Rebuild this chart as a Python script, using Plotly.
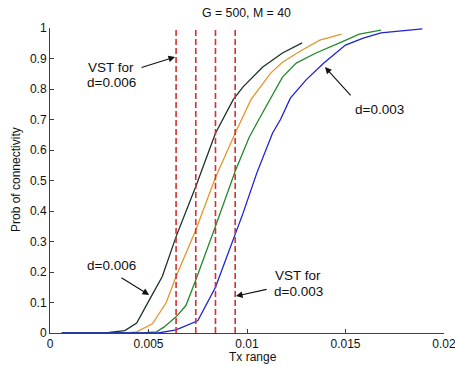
import plotly.graph_objects as go

# ---- data ----
x_black = [0.0006, 0.0030, 0.0038, 0.0044, 0.0051, 0.0057, 0.0064, 0.0074, 0.0084, 0.0093, 0.0098, 0.0108, 0.0118, 0.0128]
y_black = [0.0, 0.002, 0.008, 0.033, 0.115, 0.185, 0.316, 0.48, 0.655, 0.765, 0.807, 0.872, 0.918, 0.951]

x_orange = [0.0006, 0.0040, 0.0044, 0.0052, 0.0059, 0.0064, 0.0074, 0.0084, 0.0094, 0.0102, 0.0112, 0.0118, 0.0128, 0.0137, 0.0148]
y_orange = [0.0, 0.001, 0.004, 0.03, 0.10, 0.185, 0.338, 0.51, 0.655, 0.765, 0.852, 0.888, 0.928, 0.96, 0.98]

x_green = [0.0006, 0.0048, 0.0054, 0.0058, 0.0064, 0.0069, 0.0074, 0.0079, 0.0084, 0.0094, 0.0101, 0.0106, 0.0118, 0.0125, 0.0135, 0.0147, 0.0157, 0.0168]
y_green = [0.0, 0.001, 0.004, 0.02, 0.053, 0.09, 0.174, 0.26, 0.35, 0.53, 0.64, 0.70, 0.839, 0.885, 0.918, 0.951, 0.98, 0.993]

x_blue = [0.0006, 0.0055, 0.0064, 0.0075, 0.0084, 0.0091, 0.0098, 0.0105, 0.0113, 0.0117, 0.0122, 0.0130, 0.0139, 0.0150, 0.0159, 0.0168, 0.0178, 0.0189]
y_blue = [0.0, 0.0, 0.01, 0.04, 0.15, 0.27, 0.393, 0.525, 0.656, 0.70, 0.77, 0.83, 0.885, 0.944, 0.967, 0.984, 0.99, 0.997]

vst_lines = [0.0064, 0.0074, 0.0084, 0.0094]

x_ticks = [0, 0.005, 0.01, 0.015, 0.02]
x_tick_labels = ["0", "0.005", "0.01", "0.015", "0.02"]
y_ticks = [0, 0.1, 0.2, 0.3, 0.4, 0.5, 0.6, 0.7, 0.8, 0.9, 1]
y_tick_labels = ["0", "0.1", "0.2", "0.3", "0.4", "0.5", "0.6", "0.7", "0.8", "0.9", "1"]

title_text = "G = 500, M = 40"
x_title = "Tx range"
y_title = "Prob of connectivity"

FONT = "Liberation Sans, Arial, sans-serif"

# plot-area pixel geometry (for placing title / axis titles)
L, R, T, B = 50, 444, 28, 333
PW, PH = R - L, B - T

def px_to_paper(px, py):
    return (px - L) / PW, (B - py) / PH

fig = go.Figure()

series = [
    (x_black, y_black, "#1d3326"),
    (x_orange, y_orange, "#e3962c"),
    (x_green, y_green, "#25892a"),
    (x_blue, y_blue, "#1f22cf"),
]
for xs, ys, col in series:
    fig.add_trace(go.Scatter(x=xs, y=ys, mode="lines",
                             line=dict(color=col, width=1.3),
                             showlegend=False, hoverinfo="skip"))

for v in vst_lines:
    fig.add_trace(go.Scatter(x=[v, v], y=[0, 1], mode="lines",
                             line=dict(color="#d62f2f", width=1.6, dash="6px,3px"),
                             showlegend=False, hoverinfo="skip"))

axis_common = dict(
    showgrid=False, zeroline=False, showline=True, linecolor="#404040", linewidth=1,
    ticks="inside", ticklen=4, tickcolor="#404040",
    tickfont=dict(family=FONT, size=12, color="#111111"),
    mirror=False, ticklabeloverflow="allow", automargin=False,
)

fig.update_xaxes(range=[0, 0.0200001], tickvals=x_ticks, ticktext=x_tick_labels, **axis_common)
fig.update_yaxes(range=[0, 1.000001], tickvals=y_ticks, ticktext=y_tick_labels, **axis_common)

ann_font = dict(family=FONT, size=13.5, color="#111111")
annotations = []

def txt(x, y, s):
    annotations.append(dict(x=x, y=y, xref="x", yref="y", text=s, showarrow=False,
                            font=ann_font, xanchor="center", yanchor="middle"))

def arrow(x0, y0, x1, y1):
    annotations.append(dict(x=x1, y=y1, ax=x0, ay=y0, xref="x", yref="y",
                            axref="x", ayref="y", text="", showarrow=True,
                            arrowhead=2, arrowsize=1.2, arrowwidth=1.1,
                            arrowcolor="#111111"))

txt(0.0031, 0.869, "VST for")
txt(0.0031, 0.820, "d=0.006")
arrow(0.00457, 0.869, 0.00635, 0.905)

txt(0.0031, 0.220, "d=0.006")
arrow(0.00355, 0.184, 0.00503, 0.125)

txt(0.01259, 0.190, "VST for")
txt(0.01259, 0.136, "d=0.003")
arrow(0.01107, 0.144, 0.00944, 0.121)

txt(0.01675, 0.734, "d=0.003")
arrow(0.01533, 0.774, 0.01396, 0.872)

# title and axis titles
tx, ty = px_to_paper(246, 13)
annotations.append(dict(x=tx, y=ty, xref="paper", yref="paper",
                        text=title_text, showarrow=False,
                        font=dict(family=FONT, size=12.3, color="#111111"),
                        xanchor="center", yanchor="middle"))
tx, ty = px_to_paper(253, 357)
annotations.append(dict(x=tx, y=ty, xref="paper", yref="paper",
                        text=x_title, showarrow=False,
                        font=dict(family=FONT, size=12, color="#111111"),
                        xanchor="center", yanchor="middle"))
tx, ty = px_to_paper(16, 180)
annotations.append(dict(x=tx, y=ty, xref="paper", yref="paper",
                        text=y_title, showarrow=False, textangle=-90,
                        font=dict(family=FONT, size=12, color="#111111"),
                        xanchor="center", yanchor="middle"))

fig.update_layout(
    width=455, height=367,
    margin=dict(l=L, r=455 - R, t=T, b=367 - B, autoexpand=False),
    paper_bgcolor="white", plot_bgcolor="white",
    annotations=annotations,
    showlegend=False,
)

fig.write_html("out.html")
